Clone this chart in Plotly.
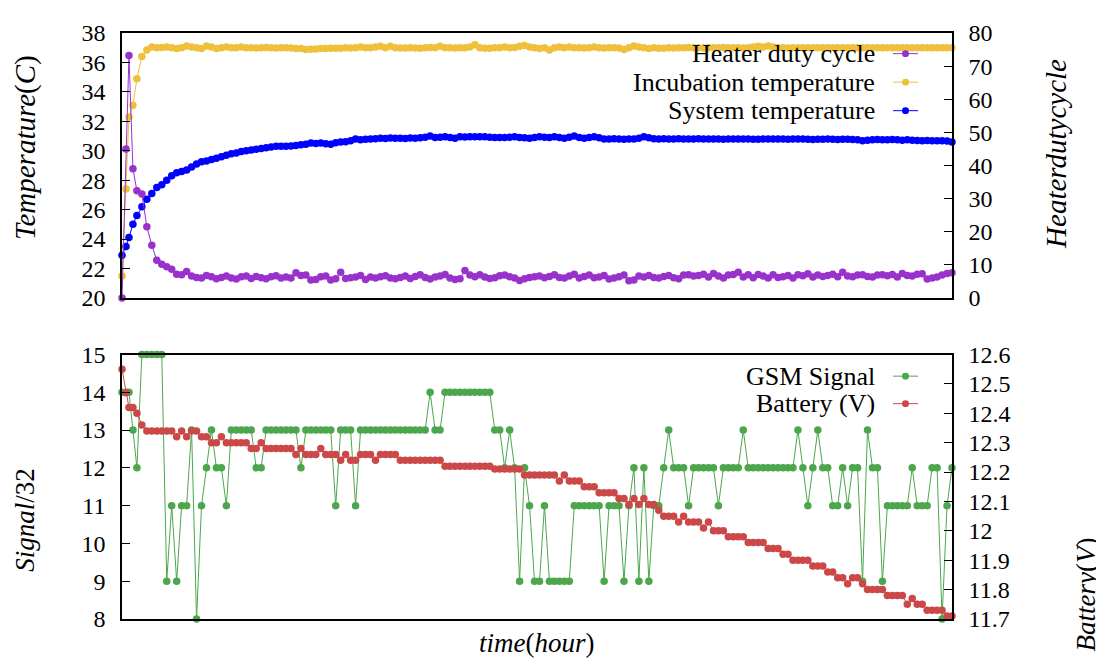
import plotly.graph_objects as go

# ---------------- data ----------------
heater_duty = [0, 45.0, 73.2, 39.0, 32.4, 31.4, 21.5, 15.9, 11.4, 10.2,
 9.4, 8.7, 7.2, 7.0, 8.0, 6.6, 6.2, 6.0, 6.8, 6.4,
 5.8, 6.2, 6.6, 6.0, 5.7, 6.4, 6.6, 5.9, 6.5, 6.1,
 5.8, 6.4, 6.7, 6.0, 6.3, 6.0, 7.6, 6.8, 6.9, 5.4,
 5.6, 6.4, 6.6, 5.4, 5.8, 7.8, 5.9, 6.1, 6.3, 6.8,
 5.6, 6.3, 6.0, 6.4, 6.7, 6.0, 5.8, 6.2, 6.6, 5.9,
 6.5, 7.0, 6.2, 5.7, 6.3, 6.6, 7.1, 6.0, 5.6, 5.8,
 8.3, 6.9, 6.4, 7.0, 6.3, 5.9, 6.1, 6.7, 6.9, 6.4,
 6.0, 5.3, 5.8, 6.2, 6.4, 6.6, 6.1, 6.5, 7.0, 6.2,
 6.0, 6.6, 7.2, 6.0, 6.5, 6.9, 6.1, 6.3, 6.8, 5.7,
 6.0, 6.4, 6.9, 5.2, 5.4, 6.6, 6.3, 6.8, 6.2, 6.0,
 6.5, 6.8, 6.1, 5.8, 6.9, 7.0, 6.6, 6.8, 7.2, 6.3,
 7.4, 6.6, 6.0, 6.9, 7.1, 7.8, 6.3, 7.0, 6.1, 7.1,
 6.6, 6.0, 7.0, 6.2, 6.4, 6.8, 6.0, 7.0, 6.7, 7.3,
 6.3, 6.9, 6.5, 6.8, 7.2, 6.4, 7.8, 6.6, 6.4, 6.9,
 7.0, 6.5, 6.3, 6.9, 7.0, 6.7, 7.1, 6.3, 7.4, 6.8,
 6.6, 7.2, 7.3, 5.7, 6.0, 6.3, 6.9, 7.4, 7.6]

incubation_temp = [21.5, 27.4, 32.3, 33.1, 34.9, 36.4, 36.85, 37.05, 37.0, 37.02,
 37.05, 37.0, 36.95, 37.0, 37.12, 37.05, 37.0, 36.95, 37.12, 37.05,
 36.95, 37.0, 37.05, 37.0, 37.0, 37.05, 37.0, 37.0, 36.98, 37.0,
 37.02, 37.0, 36.98, 37.0, 37.0, 36.98, 36.95, 36.95, 36.88, 36.9,
 36.92, 36.95, 36.95, 36.97, 36.97, 36.97, 37.0, 36.98, 37.0, 37.05,
 37.0, 37.0, 37.05, 37.1, 37.0, 37.1, 37.0, 36.98, 36.98, 37.0,
 36.98, 36.97, 37.0, 37.02, 37.0, 37.1, 37.0, 37.0, 36.98, 37.0,
 37.0, 37.05, 37.2, 37.0, 36.97, 36.97, 37.0, 37.0, 37.05, 37.0,
 37.02, 37.1, 37.15, 37.05, 37.0, 36.95, 37.0, 36.85, 37.0, 37.05,
 37.0, 37.05, 37.0, 37.0, 36.98, 37.0, 37.05, 37.0, 36.98, 37.0,
 37.0, 36.98, 36.88, 37.0, 37.12, 37.05, 37.0, 36.95, 37.0, 36.97,
 36.97, 37.0, 36.98, 37.0, 37.0, 37.02, 37.0, 37.0, 36.98, 37.0,
 37.0, 37.0, 37.02, 37.0, 37.0, 37.0, 36.98, 37.0, 37.05, 37.1,
 37.05, 37.12, 37.05, 37.0, 37.0, 36.98, 37.0, 37.0, 37.0, 37.0,
 37.0, 37.0, 37.0, 37.0, 37.0, 37.0, 37.0, 37.0, 37.0, 37.0,
 37.0, 37.0, 37.0, 37.0, 37.0, 37.0, 37.0, 37.0, 37.0, 37.0,
 37.0, 37.0, 37.0, 37.0, 37.0, 37.0, 37.0, 37.0, 37.0]

system_temp = [22.9, 23.5, 24.1, 25.0, 25.6, 26.2, 26.7, 27.1, 27.5, 27.7,
 28.0, 28.3, 28.5, 28.6, 28.7, 28.9, 29.1, 29.25, 29.3, 29.4,
 29.5, 29.6, 29.7, 29.8, 29.85, 29.95, 30.0, 30.05, 30.1, 30.15,
 30.2, 30.25, 30.3, 30.3, 30.3, 30.32, 30.35, 30.41, 30.45, 30.52,
 30.5, 30.52, 30.48, 30.45, 30.55, 30.59, 30.62, 30.68, 30.8, 30.74,
 30.78, 30.8, 30.82, 30.85, 30.84, 30.86, 30.85, 30.85, 30.84, 30.86,
 30.85, 30.88, 30.92, 31.0, 30.9, 30.92, 30.95, 30.9, 30.85, 30.95,
 30.94, 30.95, 30.95, 30.96, 30.95, 30.92, 30.9, 30.9, 30.9, 30.92,
 30.95, 30.9, 30.88, 30.85, 30.9, 30.95, 30.92, 30.9, 30.95, 30.9,
 30.85, 30.92, 31.0, 30.9, 30.85, 30.9, 30.95, 30.88, 30.8, 30.8,
 30.82, 30.8, 30.78, 30.8, 30.8, 30.85, 30.95, 30.88, 30.82, 30.8,
 30.82, 30.8, 30.8, 30.82, 30.8, 30.8, 30.8, 30.82, 30.8, 30.8,
 30.8, 30.8, 30.78, 30.8, 30.8, 30.8, 30.8, 30.8, 30.78, 30.78,
 30.8, 30.8, 30.8, 30.8, 30.8, 30.78, 30.8, 30.8, 30.8, 30.78,
 30.76, 30.78, 30.78, 30.8, 30.78, 30.76, 30.78, 30.78, 30.76, 30.74,
 30.68, 30.72, 30.74, 30.76, 30.74, 30.74, 30.76, 30.74, 30.72, 30.74,
 30.72, 30.7, 30.68, 30.7, 30.68, 30.68, 30.68, 30.66, 30.6]

gsm_signal = [14, 14, 14, 13, 12, 15, 15, 15, 15, 15,
 9, 11, 9, 11, 11, 13, 8, 11, 12, 13,
 12, 12, 11, 13, 13, 13, 13, 13, 12, 12,
 13, 13, 13, 13, 13, 13, 13, 12, 13, 13,
 13, 13, 13, 13, 11, 13, 13, 13, 11, 13,
 13, 13, 13, 13, 13, 13, 13, 13, 13, 13,
 13, 13, 13, 14, 13, 13, 14, 14, 14, 14,
 14, 14, 14, 14, 14, 14, 13, 13, 12, 13,
 12, 9, 12, 11, 9, 9, 11, 9, 9, 9,
 9, 9, 11, 11, 11, 11, 11, 11, 9, 11,
 11, 11, 9, 11, 12, 9, 12, 9, 11, 11,
 12, 13, 12, 12, 12, 11, 12, 12, 12, 12,
 12, 11, 12, 12, 12, 12, 13, 12, 12, 12,
 12, 12, 12, 12, 12, 12, 12, 13, 12, 11,
 12, 13, 12, 12, 11, 11, 12, 11, 12, 12,
 9, 13, 12, 12, 9, 11, 11, 11, 11, 11,
 12, 11, 11, 11, 12, 12, 8, 11, 12]

battery_v = [12.55, 12.47, 12.42, 12.42, 12.40, 12.36, 12.34, 12.34, 12.34, 12.34,
 12.34, 12.34, 12.32, 12.34, 12.32, 12.34, 12.34, 12.32, 12.32, 12.30,
 12.30, 12.32, 12.30, 12.30, 12.30, 12.30, 12.30, 12.28, 12.28, 12.30,
 12.28, 12.28, 12.28, 12.28, 12.28, 12.28, 12.26, 12.28, 12.26, 12.26,
 12.26, 12.28, 12.26, 12.26, 12.26, 12.24, 12.26, 12.24, 12.24, 12.26,
 12.26, 12.26, 12.24, 12.26, 12.26, 12.26, 12.26, 12.24, 12.24, 12.24,
 12.24, 12.24, 12.24, 12.24, 12.24, 12.24, 12.22, 12.22, 12.22, 12.22,
 12.22, 12.22, 12.22, 12.22, 12.22, 12.22, 12.21, 12.21, 12.21, 12.21,
 12.21, 12.21, 12.19, 12.19, 12.19, 12.19, 12.19, 12.19, 12.19, 12.17,
 12.19, 12.17, 12.17, 12.17, 12.15, 12.15, 12.15, 12.13, 12.13, 12.13,
 12.13, 12.11, 12.11, 12.09, 12.11, 12.09, 12.11, 12.09, 12.09, 12.07,
 12.05, 12.05, 12.05, 12.03, 12.05, 12.03, 12.03, 12.03, 12.01, 12.03,
 12.00, 12.00, 12.00, 11.98, 11.98, 11.98, 11.98, 11.96, 11.96, 11.96,
 11.96, 11.94, 11.94, 11.94, 11.92, 11.92, 11.90, 11.90, 11.90, 11.90,
 11.88, 11.88, 11.88, 11.86, 11.86, 11.84, 11.84, 11.82, 11.84, 11.84,
 11.82, 11.80, 11.80, 11.80, 11.80, 11.78, 11.78, 11.78, 11.78, 11.75,
 11.77, 11.75, 11.75, 11.73, 11.73, 11.73, 11.73, 11.71, 11.71]

# sampling times (first samples were taken more densely)
early_times = [0, 0.8, 1.4, 2.2, 3.0]

temp_ticks = [20, 22, 24, 26, 28, 30, 32, 34, 36, 38]
duty_ticks = [0, 10, 20, 30, 40, 50, 60, 70, 80]
signal_ticks = [8, 9, 10, 11, 12, 13, 14, 15]
battery_ticks = [11.7, 11.8, 11.9, 12.0, 12.1, 12.2, 12.3, 12.4, 12.5, 12.6]
battery_ticktext = ["11.7", "11.8", "11.9", "12", "12.1", "12.2", "12.3", "12.4", "12.5", "12.6"]

top_legend_labels = ["Heater duty cycle", "Incubation temperature", "System temperature"]
bottom_legend_labels = ["GSM Signal", "Battery (V)"]

# ---------------- styling ----------------
C_HEATER = "#9932CC"
C_INC = "#EFC03C"
C_SYS = "#0000FF"
C_GSM = "#4CA64C"
C_BAT = "#CC4848"
FONT = "Liberation Serif"

PAGE_OFF = 8               # browser body margin
W, H = 1104 - PAGE_OFF, 659 - PAGE_OFF
# plot box edges in page pixels
L, R, T, B = 122, 952, 23, 619


def px(x):
    return (x - L) / (R - L)


def py(y):
    return (B - y) / (B - T)


def times(n):
    return [early_times[i] if i < len(early_times) else i - 1 for i in range(n)]


def series(vals, color, xa, ya, name):
    return go.Scatter(x=times(len(vals)), y=vals, mode="lines+markers", name=name,
                      xaxis=xa, yaxis=ya, cliponaxis=False, showlegend=False,
                      line=dict(color=color, width=1),
                      marker=dict(color=color, size=7.5, line=dict(width=0)))


fig = go.Figure()
fig.add_trace(series(incubation_temp, C_INC, "x", "y", top_legend_labels[1]))
fig.add_trace(series(system_temp, C_SYS, "x", "y", top_legend_labels[2]))
fig.add_trace(series(heater_duty, C_HEATER, "x", "y2", top_legend_labels[0]))
fig.add_trace(series(gsm_signal, C_GSM, "x2", "y3", bottom_legend_labels[0]))
fig.add_trace(series(battery_v, C_BAT, "x2", "y4", bottom_legend_labels[1]))

tickfont = dict(family=FONT, size=24, color="black")
common_y = dict(showgrid=False, zeroline=False, showline=True, linecolor="black", linewidth=1.5,
                ticks="inside", ticklen=8, tickwidth=1, tickcolor="black", tickfont=tickfont,
                ticklabelstandoff=10)
common_x = dict(showgrid=False, zeroline=False, showline=True, mirror=True, linecolor="black",
                linewidth=1.5, ticks="", showticklabels=False, range=[0, 167])

top_dom = [py(292.5), 1]
bot_dom = [0, py(350)]

fig.update_layout(
    width=W, height=H,
    margin=dict(l=L - PAGE_OFF, r=1104 - R, t=T - PAGE_OFF, b=659 - B, pad=0),
    paper_bgcolor="white", plot_bgcolor="white",
    font=dict(family=FONT, size=24, color="black"),
    showlegend=False,
    xaxis=dict(domain=[0, 1], anchor="y", **common_x),
    yaxis=dict(domain=top_dom, anchor="x", range=[20, 38], tickvals=temp_ticks, **common_y),
    yaxis2=dict(overlaying="y", side="right", anchor="x", range=[0, 80], tickvals=duty_ticks, **common_y),
    xaxis2=dict(domain=[0, 1], anchor="y3", **common_x),
    yaxis3=dict(domain=bot_dom, anchor="x2", range=[8, 15], tickvals=signal_ticks, **common_y),
    yaxis4=dict(overlaying="y3", side="right", anchor="x2", range=[11.7, 12.6],
                tickvals=battery_ticks, ticktext=battery_ticktext, **common_y),
)

ann = []
shapes = []


def title(text, x, y, size, angle):
    ann.append(dict(text=text, x=px(x), y=py(y), xref="paper", yref="paper", showarrow=False,
                    textangle=angle, xanchor="center", yanchor="middle",
                    font=dict(family=FONT, size=size, color="black")))


title("<i>Temperature</i>(<i>C</i>)", 25, 140, 29, -90)
title("<i>Heaterdutycycle</i>", 1056, 146, 29, -90)
title("<i>Signal</i>/32", 25, 518, 27, -90)
title("<i>Battery</i>(<i>V</i>)", 1086, 594, 27, -90)
title("<i>time</i>(<i>hour</i>)", 537, 643, 27, 0)


def legend_entry(label, color, y):
    ann.append(dict(text=label, x=px(877), y=py(y), xref="paper", yref="paper", showarrow=False,
                    xanchor="right", yanchor="middle",
                    font=dict(family=FONT, size=26, color="black")))
    shapes.append(dict(type="line", xref="paper", yref="paper", x0=px(893), x1=px(918),
                       y0=py(y), y1=py(y), line=dict(color=color, width=1)))
    r = 3.5
    shapes.append(dict(type="circle", xref="paper", yref="paper",
                       x0=px(905.5 - r), x1=px(905.5 + r), y0=py(y + r), y1=py(y - r),
                       fillcolor=color, line=dict(width=0)))


legend_entry(top_legend_labels[0], C_HEATER, 44)
legend_entry(top_legend_labels[1], C_INC, 73)
legend_entry(top_legend_labels[2], C_SYS, 102)
legend_entry(bottom_legend_labels[0], C_GSM, 372)
legend_entry(bottom_legend_labels[1], C_BAT, 400)

fig.update_layout(annotations=ann, shapes=shapes)

fig.write_html("out.html")
